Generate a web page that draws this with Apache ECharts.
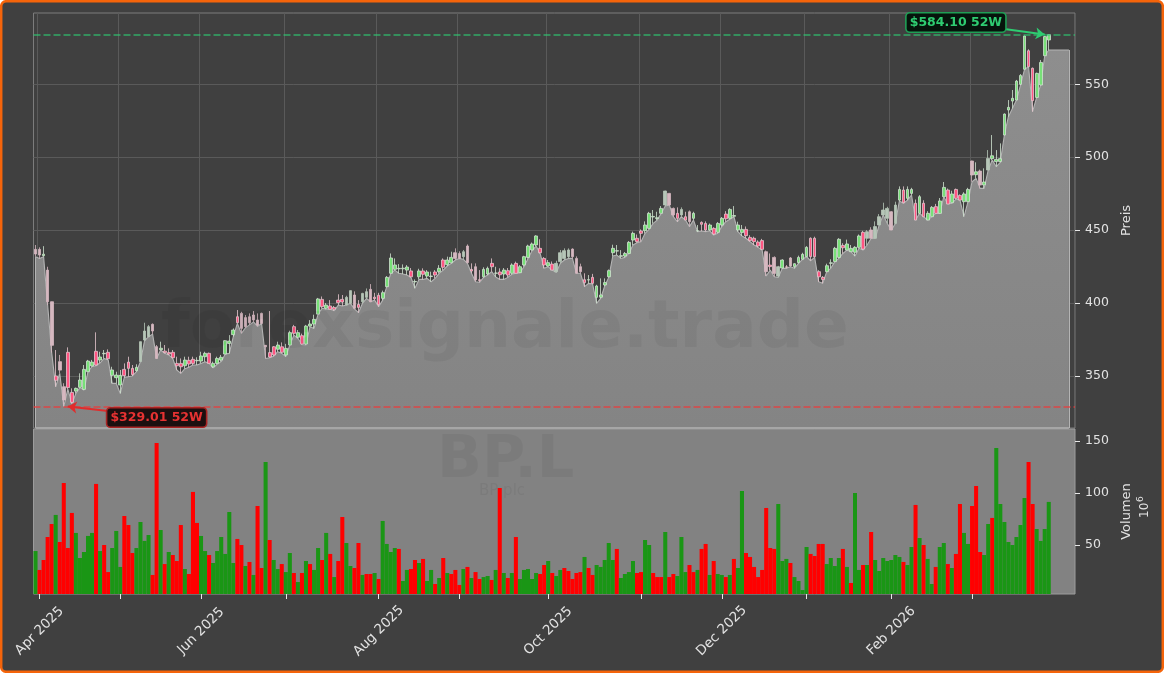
<!DOCTYPE html>
<html>
<head>
<meta charset="utf-8">
<title>BP.L</title>
<script src="https://cdn.jsdelivr.net/npm/echarts@6/dist/echarts.min.js"></script>
<style>
  html, body { margin: 0; padding: 0; background: #ffffff; }
  #main { width: 1164px; height: 673px; }
</style>
</head>
<body>
<div id="main"></div>
<script type="text/javascript">

// first trading day of each labelled month, as bar number
var tickIndex = [1, 21, 41, 62, 85, 105, 127, 150, 170, 191, 212, 232];
var tickLabels = ['Apr 2025', '', 'Jun 2025', '', 'Aug 2025', '', 'Oct 2025', '', 'Dec 2025', '', 'Feb 2026', ''];

var priceTicks = [350, 400, 450, 500, 550];
var volumeTicks = [50, 100, 150];

var high52 = 584.10;
var low52 = 329.01;

var opens = [
  436.8,436.8,432.5,422.6,400.9,350,359.8,342.6,366.2,338.7,
  339.6,342.2,340.8,352.9,356.8,366.9,360.9,365.2,366.2,350.4,
  348.8,343.8,354.5,359.5,355.2,353.6,359.8,374.6,376.9,385.4,
  370.1,368,367,366,366.2,358.6,358.6,357,360.7,361.4,
  360.4,360.2,363.2,365.5,356.3,358.6,360.9,365,372.3,378.3,
  390.6,392.9,390,390.6,391.8,388.4,392.9,371,366,370,
  368.3,370,364.4,371.2,383.8,376.5,377.6,371.9,384.2,385.6,
  392.4,402.5,396.4,398,397,402,402.5,398.6,399.8,405.5,
  399,400.9,403.9,409.4,404,405.3,403.2,411.2,420.4,423.1,
  423.5,423.5,422.6,422,414.5,418,422,418.5,418.2,421.3,
  421.5,429.5,426.3,427.6,434.5,434,431.8,439.1,423,424.9,
  416,418,419.9,427.2,420.4,421.3,419.9,422.2,420.4,427.2,
  420.8,426.1,431.3,436.4,439.8,437.5,430.6,425.4,426.7,421.5,
  428.4,430.6,431.8,437,430.6,424.9,416,415.8,417.6,403.9,
  404,412.4,418,434.5,435.6,432,432.2,434,443.2,444.4,
  449.4,449.6,451.2,459,458,461.5,467.2,475.2,464.9,461.5,
  460.4,459.2,462.6,458.1,449.4,455.3,454.6,450.1,451.2,448.5,
  453.5,461,458.1,459.5,450.1,448.3,450.5,445,444.4,441.8,
  442.8,435.2,426,431.3,418.5,424,424.8,430.9,425,427.7,
  430,431.8,444.4,444.4,421.5,417.6,421.5,427.2,428.4,431.3,
  439.5,436.3,435.2,434.8,438.2,448.5,444.4,450.1,444.4,453.5,
  460.4,458.1,462.6,454.6,470.6,477.5,471.8,475.2,468.4,461.5,
  468.4,456.9,459.2,466.1,461.5,472.9,477.5,468.8,477.9,473.8,
  469.5,469.5,497.4,488,490.5,481,491.2,499,497,497,
  515.2,532.4,538.5,539.2,550,560.3,573,561,541,549.5,569.6,580.4
];

var closes = [
  433.6,432.9,433.5,400.9,371,347,354,333.5,342,331.9,
  341.5,347.2,354.5,360.2,359.5,357.5,363,365.5,361.8,354.1,
  350.6,350.4,350.2,355.2,350.9,355.9,373.5,380.8,383.8,380.8,
  362,369,366,365,362.5,357,356.3,360.9,358.2,358.6,
  360.7,363.7,365.5,358.6,358.6,362,362.8,374.2,373.9,381.5,
  386.5,382.6,383.8,386.5,388.4,384.9,386,370,363,364.4,
  371.2,366.2,368.9,379.7,379.2,379.7,371.9,384.2,385.6,388.8,
  402.8,397.5,398.6,395.7,395.7,400.2,400.7,403.9,408.5,396.4,
  397,406.6,407.8,400.9,403,398.9,407.1,417.6,430.9,426.1,
  423.8,423.9,424.7,418,414.8,422,419.7,421.3,418.5,419.2,
  423.8,424.5,429.5,431.3,430.6,430.6,435.2,427.7,422,415.8,
  415.5,423.1,423.8,424.9,420.6,419.4,422.6,419.2,426.1,420.4,
  424.9,431.8,439.1,440.5,446,434.5,426.1,427.7,422.6,427.2,
  434.5,435.9,436.4,431.8,420.4,421.5,414,416,413.5,411.7,
  405.5,414,422.2,437.5,435.9,432.5,434,441.6,447.8,442.1,
  447.8,453.5,461.5,459.4,458.5,464.9,476.8,467.2,460.4,458.1,
  464.2,456.9,455.8,461.5,449.6,454,450.1,453.5,447.3,454.6,
  458.1,457.8,464.2,460,453.5,450.5,446.2,442.8,442.1,439.1,
  436.8,421.5,425,420.3,424.9,429.5,424.5,425.4,427,431.3,
  433.4,438.2,431.8,431.8,418,416.2,425.6,427.6,437.5,443.7,
  437.9,440.5,437.5,438.2,446,437,448.9,444.4,452.4,459.2,
  463.8,464.9,450.1,467.2,477.9,468.8,477.9,477.9,456.9,472.9,
  459.2,461.5,465.6,461.5,470,479.3,467.9,474.8,471.8,470.6,
  474.8,477.9,487.8,490,480.9,483,499.2,501,498.5,499,
  529.6,534.2,540.4,552.2,556.1,583.1,562.1,538.8,557.5,565,582.7,584
];

var lows = [
  431.8,430.6,431.8,398.6,366,342.6,351.8,329.01,341,331,
  338,342,340.3,352.9,356.5,357,359,362,361,344.9,
  344.9,338,349,349.5,350,353,359.8,374,376.9,378.7,
  362,367.8,365.5,364.4,362,354.1,351.8,355,356,357.5,
  357.5,358.6,359.8,358.6,355.5,358,359.8,365,365.5,377,
  386,379.2,383,385,387,384,386,362,362.5,363.5,
  366.6,365.5,363.2,371.2,378,375.8,371.5,371.2,383.8,382.6,
  392.4,396.4,395.7,395.7,394.7,398.6,398,398.6,399.8,396,
  393.4,399.8,403.2,400.9,402,397.5,402,411.2,420.4,422.6,
  420.4,419.9,419.2,417.6,410.1,416.2,416.2,416.9,414.6,416.9,
  420.4,422.6,425.4,427.2,429.5,430.6,430,427.2,420.4,414.6,
  414.2,417.6,419.2,421.5,417.9,416.2,416.2,417.6,419.7,420.4,
  420.8,424.9,430.6,435.9,439.1,434,423.8,424.9,422.6,421,
  427.2,429.5,430.6,430.6,420.4,420.4,411.2,413.5,413,399.8,
  403.2,411.7,417.6,432.2,432.9,430.6,431.3,434,439.8,441.4,
  442.1,447.8,450.5,454.6,456.9,461.5,466.5,467.2,459.2,455.8,
  459.2,456.9,452.4,456.9,448.9,449.4,448.9,449.6,446.6,447.8,
  452.4,455.8,457.4,459.2,449,446,444.4,442.1,439.8,438.2,
  436.3,418.5,422.6,418,417.6,423.8,423.8,424.9,423.8,427.2,
  430,431.8,429,431.3,414.6,413.5,421.5,423.8,428.4,430.6,
  434,436.3,435.2,432.2,437.5,436.3,439.8,444.4,444.4,453.5,
  460.4,454.6,450.1,454.6,470,468.4,470.6,474.1,456.9,461.5,
  459.2,456.9,459.2,461.5,461.5,472.9,467.9,468.4,471.3,470.6,
  459.2,469.5,483.2,485.5,478.6,478.6,491.2,498.1,493.5,496.5,
  515.2,527.8,533.5,539.2,549.5,560.3,562.1,531.2,541,549.5,569.6,573.5
];

var highs = [
  439.8,438.2,439,424.9,401,367.8,364.4,345,369.6,341.5,
  342,351.8,357.5,361,361,379.9,366.6,367.8,368.2,356.3,
  352.9,354.1,358.6,363.2,357.5,358,373.5,386.5,384.9,386,
  371.2,373.5,371.2,368.9,367.8,363.2,362,363.2,363.2,363.2,
  362.8,366.6,366.6,366,359.8,363.2,364.4,374.6,378,382.6,
  395.2,394,391.8,392.9,394.5,392.9,393.4,371.2,394.5,370.5,
  373.5,373,372,381,385,381.5,379,385,388.3,392,
  403.5,404.5,400,402,398,406,405.5,405,408.5,408,
  402,407,410,413,407,407,408.5,418.5,434,430.6,
  426.7,426.5,426,424,416.2,423.5,423.8,422.6,421.5,422.6,
  426,430.6,431.8,435.2,437.5,435.5,436.4,440.2,427.2,427.2,
  422.6,424.5,425,430.6,424.9,423.8,424,424,427.2,428.4,
  426,432.4,440,441.5,446.5,443.7,431.5,429.5,428.5,429,
  436.4,437.5,437.5,437.5,432,427,420.4,419.2,420,412.5,
  416.9,416.9,423,440,439.8,436.3,435,442.5,449,447,
  450.5,456,462.5,463.8,462.6,466.5,477,475.5,465.5,465.6,
  465.6,462.6,463.5,462.6,453.5,456,456,454.5,452,455.5,
  459,463,465,466.5,455.8,453.5,452.5,446.5,445.5,443,
  444,436,434,432,425.5,430,426,431.5,427.2,432.5,
  434.5,439,445,445.5,422.5,418.5,427,430,438.5,444.5,
  441,443.5,439.8,439,447,449.5,450,452,456,461,
  468.8,466,463,469.5,480,480,480,479,471,474,
  470.5,463,466.5,468,472,483,478.5,477,478.5,474.5,
  476,479,497.6,496.5,491.5,492.4,504.9,515.2,504.9,509.5,
  530,539.2,546.1,553,557,583.5,574,561.5,558,566.7,583.1,584.1
];

// the grey area runs a few bars past the last candle
var areaTail = [573.5, 573.5, 573.5, 573.5, 573.5];

var volumes = [
  44.2,26,35.6,57.7,70.2,78.9,52.9,109.6,47.1,80.8,
  61.6,37.5,43.3,58.7,61.6,108.7,44.2,50,24,47.1,
  63.5,28.9,77.9,69.2,42.3,47.1,72.1,53.9,59.6,21.2,
  148.1,64.4,31.7,43.3,40.4,34.6,69.2,26.9,22.1,101,
  71.2,58.7,44.2,40.4,32.7,44.2,57.7,41.4,81.7,32.7,
  55.8,50,29.8,33.7,21.2,87.5,27.9,129.8,54.8,35.6,
  26.9,31.7,24,42.3,23.1,14.4,23.1,34.6,31.7,26,
  47.1,35.6,61.6,41.4,19.2,34.6,76.9,51.9,29.8,27.9,
  51.9,21.2,22.1,22.1,23.1,17.3,73.1,51,43.3,47.1,
  46.2,15.4,26,26.9,35.6,32.7,36.6,15.4,26,12.5,
  18.3,37.5,23.1,22.1,26,11.6,26.9,28.9,18.3,24,
  17.3,19.2,20.2,16.4,26,104.8,23.1,18.3,23.1,57.7,
  17.3,26,26.9,17.3,23.1,22.1,30.8,34.6,23.1,20.2,
  26,27.9,25,17.3,23.1,24,38.5,27.9,21.2,30.8,
  28.9,35.6,51.9,35.6,46.2,18.3,22.1,24,34.6,23.1,
  24,54.8,50,23.1,19.2,19.2,62.5,19.2,22.1,20.2,
  57.7,24,30.8,24,26,46.2,51,21.2,34.6,22.1,
  21.2,19.2,21.2,36.6,27.9,101.9,42.3,38.5,28.9,19.2,
  26,85.6,47.1,46.2,89.4,34.6,36.6,32.7,19.2,15.4,
  6.7,48.1,41.4,39.4,51,51,31.7,37.5,29.8,37.5,
  46.2,28.9,13.5,100,26,30.8,30.8,62.5,35.6,25,
  37.5,34.6,35.6,40.4,38.5,33.7,30.8,48.1,88.5,56.7,
  50,36.6,12.5,28.9,48.1,51.9,31.7,27.9,41.4,89.4,
  61.6,51,87.5,106.7,43.3,40.4,70.2,76,143.3,89.4,
  72.1,52.9,50,57.7,69.2,95.2,129.8,89.4,65.4,53.9,65.4,91.4
];

// 1 = green volume bar, 0 = red volume bar
var volumeUp = [
  1,0,0,0,0,1,0,0,0,0,
  1,1,1,1,1,0,1,0,0,1,
  1,1,0,0,0,1,1,1,1,0,
  0,1,0,1,0,0,0,1,0,0,
  0,1,1,0,1,1,1,1,1,1,
  0,0,1,0,1,0,0,1,0,1,
  1,0,1,1,0,1,0,1,0,1,
  1,0,1,0,1,0,0,1,1,0,
  0,1,0,0,1,0,1,1,1,1,
  0,1,1,0,0,1,0,1,1,0,
  1,0,1,0,0,0,1,0,1,0,
  0,1,1,0,1,0,1,0,1,0,
  1,1,1,1,1,0,0,1,0,1,
  1,0,0,0,0,0,1,0,0,1,
  1,1,1,1,0,1,1,1,1,0,
  0,1,1,0,0,0,1,0,0,1,
  1,1,0,0,1,0,0,1,0,1,
  1,0,1,0,1,1,0,0,0,0,
  0,0,0,0,1,1,1,0,1,1,
  1,1,0,0,0,0,1,1,1,1,
  0,1,0,1,1,0,1,0,1,1,
  1,1,1,1,1,0,1,1,0,1,
  0,1,1,0,1,1,0,1,0,0,
  1,1,0,0,0,1,1,0,1,1,
  1,1,1,1,1,1,0,0,1,1,1,1
];

// candles that look washed out in the reference
var mutedBars = [0,1,3,4,6,7,26,27,28,29,30,51,52,53,54,55,56,57,77,78,79,81,82,83,
  104,105,106,107,109,129,130,131,132,133,134,135,156,157,158,160,162,181,183,184,187,
  206,207,208,209,210,211,212,213,232,234,236];

var barCount = opens.length + areaTail.length + 1;
var categories = [];
for (var i = 0; i < barCount; i++) categories.push(String(i));

var candleData = opens.map(function (o, i) {
  var item = { value: [o, closes[i], lows[i], highs[i]] };
  if (mutedBars.indexOf(i) >= 0) {
    var pale = closes[i] >= o ? '#b6c6b8' : '#d6b8c0';
    item.itemStyle = { color: pale, color0: pale, borderColor: pale, borderColor0: pale };
  }
  return item;
});

var areaData = lows.concat(areaTail);
var areaEnd = areaData.length - 1;

var priceMin = 314.3, priceMax = 598.9;
var volMin = 2.9, volMax = 161.5;

function isTick(index) { return tickIndex.indexOf(index) >= 0; }

var myChart = echarts.init(document.getElementById('main'));

var textCol = '#e2e2e2';
var edgeCol = '#b4b4b4';

var option = {
  animation: false,
  backgroundColor: '#ffffff',
  textStyle: { fontFamily: 'DejaVu Sans' },
  graphic: [
    { type: 'rect', z: -10, silent: true,
      shape: { x: 1.2, y: 1.2, width: 1161.6, height: 670.6, r: 5 },
      style: { fill: '#404040', stroke: '#f5640a', lineWidth: 2.5 } },
    { type: 'text', z: 50, silent: true, left: 161, top: 297,
      style: { text: 'forexsignale.trade', fill: 'rgba(0,0,0,0.05)', font: 'bold 66px "DejaVu Sans"' } },
    { type: 'text', z: 50, silent: true, left: 437, top: 432,
      style: { text: 'BP.L', fill: 'rgba(0,0,0,0.05)', font: 'bold 59px "DejaVu Sans"' } },
    { type: 'text', z: 50, silent: true, left: 479, top: 484,
      style: { text: 'BP plc', fill: 'rgba(0,0,0,0.05)', font: '15px "DejaVu Sans"' } },
    { type: 'text', z: 50, silent: true, x: 1139, y: 518, rotation: Math.PI / 2,
      style: { text: '10', fill: textCol, font: '12px "DejaVu Sans"' } },
    { type: 'text', z: 50, silent: true, x: 1136, y: 502, rotation: Math.PI / 2,
      style: { text: '6', fill: textCol, font: '9px "DejaVu Sans"' } }
  ],
  grid: [
    { left: 33.5, top: 13, width: 1041.5, height: 415, show: true, borderColor: '#7c7c7c', borderWidth: 1, backgroundColor: 'transparent' },
    { left: 33.5, top: 429, width: 1041.5, height: 165, show: true, borderColor: '#9c9c9c', borderWidth: 1, backgroundColor: '#828282' }
  ],
  xAxis: [
    { type: 'category', gridIndex: 0, data: categories, boundaryGap: true,
      axisLine: { show: false }, axisTick: { show: false }, axisLabel: { show: false },
      splitLine: { show: true, interval: function (index) { return isTick(index); }, lineStyle: { color: '#5a5a5a', width: 1 } } },
    { type: 'category', gridIndex: 1, data: categories, boundaryGap: true,
      axisLine: { show: false },
      axisTick: { show: true, alignWithLabel: true, interval: function (index) { return isTick(index); }, length: 5, lineStyle: { color: '#e8e8e8' } },
      axisLabel: {
        show: true, rotate: 45, align: 'center', verticalAlign: 'middle', margin: 37,
        color: textCol, fontSize: 13.5, fontFamily: 'DejaVu Sans',
        interval: function (index) { return isTick(index); },
        formatter: function (value, index) {
          return tickLabels[tickIndex.indexOf(index)] || '';
        }
      },
      splitLine: { show: false } }
  ],
  yAxis: [
    { type: 'value', gridIndex: 0, position: 'right', min: priceMin, max: priceMax,
      name: 'Preis', nameLocation: 'middle', nameGap: 38, nameRotate: 90,
      nameTextStyle: { color: textCol, fontSize: 13, fontFamily: 'DejaVu Sans' },
      axisLine: { show: false },
      axisTick: { show: true, length: 5, lineStyle: { color: '#e8e8e8' }, customValues: priceTicks },
      axisLabel: { color: textCol, fontSize: 12.5, margin: 10, customValues: priceTicks },
      splitLine: { show: false } },
    { type: 'value', gridIndex: 1, position: 'right', min: volMin, max: volMax,
      name: 'Volumen', nameLocation: 'middle', nameGap: 38, nameRotate: 90,
      nameTextStyle: { color: textCol, fontSize: 13, fontFamily: 'DejaVu Sans' },
      axisLine: { show: false },
      axisTick: { show: true, length: 5, lineStyle: { color: '#e8e8e8' }, customValues: volumeTicks },
      axisLabel: { color: textCol, fontSize: 12.5, margin: 10, customValues: volumeTicks },
      splitLine: { show: false } }
  ],
  series: [
    // horizontal grid lines, under the area
    { type: 'line', xAxisIndex: 0, yAxisIndex: 0, data: [], z: 1, silent: true,
      markLine: { z: 1, silent: true, symbol: 'none', label: { show: false }, animation: false,
        lineStyle: { color: '#5a5a5a', width: 1, type: 'solid' },
        data: priceTicks.map(function (p) { return { yAxis: p }; }) } },
    { name: 'Low', type: 'line', xAxisIndex: 0, yAxisIndex: 0, data: areaData, z: 2,
      symbol: 'none', silent: true, clip: true,
      lineStyle: { color: edgeCol, width: 1.1 },
      areaStyle: { opacity: 1, color: new echarts.graphic.LinearGradient(0, 0, 0, 1, [
        { offset: 0, color: '#8e8e8e' }, { offset: 1, color: '#848484' }]) },
      markLine: { silent: true, symbol: 'none', label: { show: false }, animation: false,
        lineStyle: { color: edgeCol, width: 1, type: 'solid' },
        data: [
          [{ coord: [0, priceMin] }, { coord: [0, areaData[0]] }],
          [{ coord: [areaEnd, priceMin] }, { coord: [areaEnd, areaData[areaEnd]] }],
          [{ coord: [0, priceMin + 0.4], lineStyle: { width: 2, color: '#a6a6a6' } }, { coord: [areaEnd, priceMin + 0.4] }]
        ] } },
    { name: 'Kurs', type: 'candlestick', xAxisIndex: 0, yAxisIndex: 0, data: candleData, z: 3,
      barWidth: 3.2, silent: true,
      itemStyle: { color: '#78e078', color0: '#ff5582', borderColor: '#cfe2cf', borderColor0: '#e6c6ce', borderWidth: 0.8 } },
    // 52 week lines, arrows and boxes
    { type: 'line', xAxisIndex: 0, yAxisIndex: 0, data: [], z: 6, silent: true,
      markLine: { silent: true, label: { show: false }, animation: false, symbol: 'none',
        data: [
          { yAxis: high52, lineStyle: { color: 'rgba(46,204,113,0.75)', width: 1.5, type: [7, 3] } },
          { yAxis: low52, lineStyle: { color: 'rgba(235,60,60,0.85)', width: 1.5, type: [7, 3] } },
          [{ coord: [240, 588], symbol: 'none', lineStyle: { color: '#2ecc71', width: 2, type: 'solid' } },
           { coord: [250, high52], symbol: 'arrow', symbolSize: 9 }],
          [{ coord: [18, 326], symbol: 'none', lineStyle: { color: '#e02c2c', width: 2, type: 'solid' } },
           { coord: [8, low52], symbol: 'arrow', symbolSize: 9 }]
        ] },
      markPoint: { silent: true, symbol: 'rect', symbolSize: 1, animation: false,
        itemStyle: { color: 'transparent' },
        label: { show: true, position: 'inside', fontFamily: 'DejaVu Sans', fontWeight: 'bold', fontSize: 12.5,
          padding: [3, 3, 2, 3], borderRadius: 3, borderWidth: 1.6 },
        data: [
          { coord: [228, 592.4], value: '$' + high52.toFixed(2) + ' 52W',
            label: { color: '#2ecc71', backgroundColor: '#06140c', borderColor: '#1f9e55' } },
          { coord: [30, 321.5], value: '$' + low52.toFixed(2) + ' 52W',
            label: { color: '#e63232', backgroundColor: '#1c1010', borderColor: '#a82424' } }
        ] } },
    { name: 'Volumen', type: 'bar', xAxisIndex: 1, yAxisIndex: 1, data: volumes, z: 3,
      barWidth: '100%', barCategoryGap: '0%', silent: true,
      itemStyle: { color: function (p) { return volumeUp[p.dataIndex] ? '#1a9615' : '#ff0000'; } } }
  ]
};

option && myChart.setOption(option);

</script>
</body>
</html>
